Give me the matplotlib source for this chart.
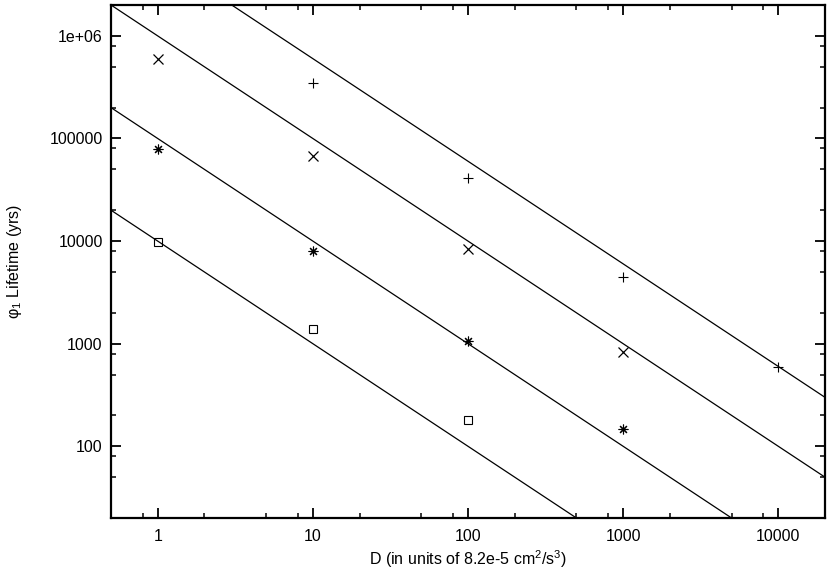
import matplotlib
matplotlib.use('Agg')
import matplotlib.pyplot as plt
from matplotlib import rcParams
from matplotlib.ticker import FixedLocator, FixedFormatter, NullFormatter

rcParams['font.family'] = ['Liberation Sans', 'DejaVu Sans']
rcParams['mathtext.fontset'] = 'custom'
rcParams['mathtext.rm'] = 'Liberation Sans'
rcParams['mathtext.it'] = 'Liberation Sans'
rcParams['font.size'] = 11.5

# data
plus_D = [10, 100, 1000, 10000]
plus_life = [348000, 41400, 4500, 598]
cross_D = [1, 10, 100, 1000]
cross_life = [601000, 68000, 8430, 824]
star_D = [1, 10, 100, 1000]
star_life = [78200, 8010, 1056, 146]
box_D = [1, 10, 100]
box_life = [9800, 1400, 182]

# fitted 1/D lines, values at the ends of the x range
fit_D = [0.5, 20000]
fit_lines = [
    [1.2e7, 300],
    [2e6, 50],
    [2e5, 5],
    [2e4, 0.5],
]

xticks = [1, 10, 100, 1000, 10000]
xticklabels = ['1', '10', '100', '1000', '10000']
yticks = [100, 1000, 10000, 100000, 1000000]
yticklabels = ['100', '1000', '10000', '100000', '1e+06']

fig = plt.figure(figsize=(8.3, 5.76), dpi=100)
ax = fig.add_axes([111/830, 58/576, 714/830, 513/576])

for ys in fit_lines:
    ax.plot(fit_D, ys, color='black', linewidth=0.9)

ax.plot(plus_D, plus_life, linestyle='none', marker='+', color='black', markersize=7, markeredgewidth=0.8)
ax.plot(cross_D, cross_life, linestyle='none', marker='x', color='black', markersize=6.5, markeredgewidth=0.9)
ax.plot(star_D, star_life, linestyle='none', marker=(8, 2, 0), color='black', markersize=7, markeredgewidth=0.8)
ax.plot(box_D, box_life, linestyle='none', marker='s', color='black', markerfacecolor='none', markersize=6, markeredgewidth=0.8)

ax.set_xscale('log')
ax.set_yscale('log')
ax.set_xlim(0.5, 20000)
ax.set_ylim(20, 2e6)

minors_x = [m * 10.0**k for k in range(-1, 5) for m in (2, 5, 8)]
minors_y = [m * 10.0**k for k in range(1, 7) for m in (2, 5, 8)]
ax.xaxis.set_major_locator(FixedLocator(xticks))
ax.xaxis.set_major_formatter(FixedFormatter(xticklabels))
ax.xaxis.set_minor_locator(FixedLocator(minors_x))
ax.xaxis.set_minor_formatter(NullFormatter())
ax.yaxis.set_major_locator(FixedLocator(yticks))
ax.yaxis.set_major_formatter(FixedFormatter(yticklabels))
ax.yaxis.set_minor_locator(FixedLocator(minors_y))
ax.yaxis.set_minor_formatter(NullFormatter())

ax.tick_params(which='both', direction='in', top=True, right=True)
ax.tick_params(which='major', length=7, width=1.3, labelsize=11.5)
ax.tick_params(axis='x', which='major', pad=8)
ax.tick_params(axis='y', which='major', pad=6)
ax.tick_params(which='minor', length=3.5, width=1.1)
for s in ax.spines.values():
    s.set_linewidth(1.6)

ax.set_xlabel(r'D (in units of 8.2e-5 cm$^2$/s$^3$)', fontsize=11.5, labelpad=3)
ax.set_ylabel('\u03c6$_1$ Lifetime (yrs)', fontsize=11.5, labelpad=18)

fig.savefig('out.png', dpi=100)
